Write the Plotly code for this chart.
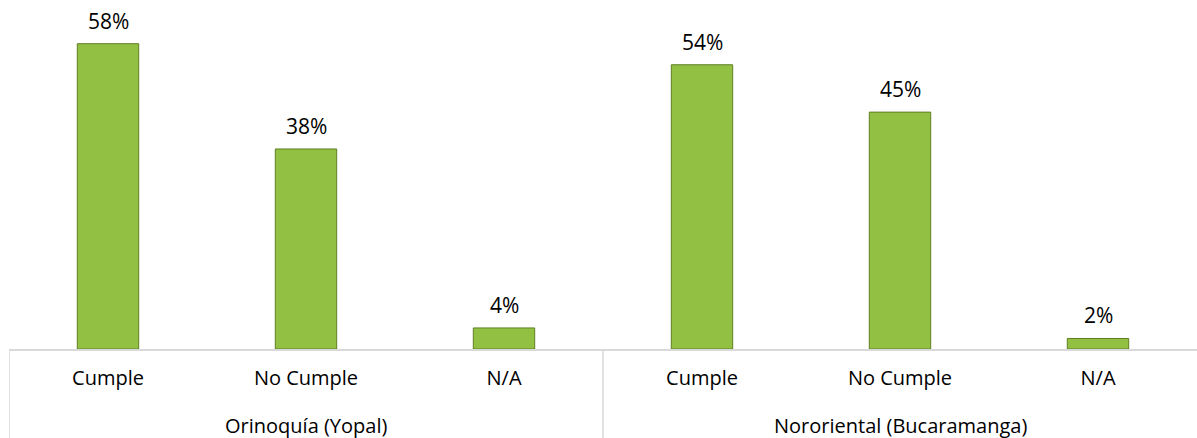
import plotly.graph_objects as go

regions = ["Orinoquía (Yopal)", "Nororiental (Bucaramanga)"]
categories = ["Cumple", "No Cumple", "N/A", "Cumple", "No Cumple", "N/A"]
region_of_bar = [0, 0, 0, 1, 1, 1]
values = [0.58, 0.38, 0.04, 0.54, 0.45, 0.02]

FONT = "Open Sans"
GRID = "#d9d9d9"
positions = list(range(len(categories)))

fig = go.Figure()
fig.add_trace(go.Bar(
    x=positions,
    y=values,
    width=0.31,
    marker=dict(color="#92c042", line=dict(color="#5f7f22", width=1)),
    hoverinfo="skip",
))

# value labels above bars
for i, v in enumerate(values):
    fig.add_annotation(
        x=i, y=v, xref="x", yref="y",
        text=f"{round(v * 100)}%",
        showarrow=False, yanchor="bottom", yshift=7,
        font=dict(family=FONT, size=21, color="#000000"),
    )

# group labels and dividers (at the start of each group)
for g, name in enumerate(regions):
    idx = [i for i, r in enumerate(region_of_bar) if r == g]
    center = sum(idx) / len(idx)
    fig.add_annotation(
        x=center, y=0, xref="x", yref="paper",
        text=name, showarrow=False, yanchor="middle", yshift=-76,
        font=dict(family=FONT, size=20, color="#000000"),
    )
    b = min(idx) - 0.5
    fig.add_shape(type="line", xref="x", yref="paper",
                  x0=b, x1=b, y0=0, y1=-0.26,
                  line=dict(color=GRID, width=1.5))

fig.update_layout(
    width=1197, height=438,
    margin=dict(l=9, r=0, t=0, b=89),
    paper_bgcolor="white", plot_bgcolor="white",
    showlegend=False,
    font=dict(family=FONT, size=20, color="#000000"),
)
fig.update_xaxes(
    range=[-0.5, len(categories) - 0.5],
    tickvals=positions, ticktext=categories,
    automargin=False,
    showline=True, linecolor=GRID, linewidth=1.5,
    showgrid=False, zeroline=False,
    ticks="outside", ticklen=10, tickcolor="rgba(0,0,0,0)",
    tickfont=dict(family=FONT, size=20, color="#000000"),
)
fig.update_yaxes(range=[0, 0.663], visible=False, showgrid=False, zeroline=False,
                 automargin=False)

fig.write_html("out.html", config={"displayModeBar": False},
               post_script="document.body.style.margin='0';")
